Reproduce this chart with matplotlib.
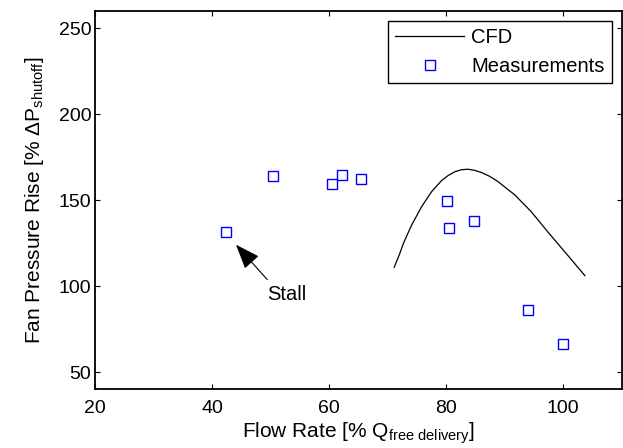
import matplotlib
matplotlib.use('Agg')
import matplotlib.pyplot as plt

# CFD curve
cfd_flow = [71.1, 72.0, 72.7, 74.1, 75.8, 77.5, 79.2, 80.3, 81.5, 82.6, 83.7, 84.8,
            86.0, 87.4, 88.8, 91.7, 94.5, 97.3, 100.2, 103.7]
cfd_rise = [111.0, 118.5, 125.1, 135.7, 146.3, 155.0, 161.4, 164.3, 166.6, 167.7, 168.0, 167.4,
            166.1, 163.9, 160.9, 153.1, 143.4, 131.8, 120.2, 106.1]

# measurements
meas_flow = [42.3, 50.4, 60.4, 62.2, 65.4, 80.2, 80.5, 84.7, 94.0, 99.9]
meas_rise = [131.6, 164.1, 159.3, 164.7, 162.3, 149.4, 134.0, 138.0, 86.4, 66.2]

plt.rcParams['font.family'] = ['Liberation Sans', 'DejaVu Sans']
plt.rcParams['mathtext.fontset'] = 'custom'
plt.rcParams['mathtext.rm'] = 'Liberation Sans'
plt.rcParams['mathtext.it'] = 'Liberation Sans'

fig = plt.figure(figsize=(6.23, 4.48), dpi=100)
ax = fig.add_axes([0.153, 0.131, 0.845, 0.8444])

ax.plot(cfd_flow, cfd_rise, '-', color='black', lw=0.9, label='CFD')
ax.plot(meas_flow, meas_rise, 's', ls='none', mfc='none', mec='blue',
        ms=7.2, mew=1.0, label='Measurements')

ax.set_xlim(20, 110)
ax.set_ylim(40, 260)
ax.set_xticks([20, 40, 60, 80, 100])
ax.set_yticks([50, 100, 150, 200, 250])
ax.tick_params(direction='in', top=True, right=True, labelsize=14,
               length=3.8, width=0.8)
ax.tick_params(axis='x', pad=8)
ax.tick_params(axis='y', pad=3)
for s in ax.spines.values():
    s.set_linewidth(1.3)

ax.set_xlabel(r'Flow Rate [% Q$_{\mathrm{free\ delivery}}$]', fontsize=15, labelpad=2)
ax.set_ylabel(r'Fan Pressure Rise [% $\Delta$P$_{\mathrm{shutoff}}$]', fontsize=15, labelpad=9)

# stall annotation
ax.annotate('', xy=(44.05, 124.1), xytext=(49.4, 103.8),
            arrowprops=dict(arrowstyle='-|>,head_length=1.1,head_width=0.42',
                            color='black', lw=0.8, mutation_scale=14,
                            shrinkA=0, shrinkB=0))
ax.text(52.8, 91.7, 'Stall', fontsize=14.5, ha='center', va='baseline')

leg = ax.legend(loc='upper right', fontsize=14.5, frameon=True, fancybox=False,
                edgecolor='black', framealpha=1, borderpad=0.36,
                handlelength=3.4, handletextpad=0.36, labelspacing=0.47,
                borderaxespad=0.5)
leg.get_frame().set_linewidth(1.0)

fig.savefig('out.png', dpi=100)
